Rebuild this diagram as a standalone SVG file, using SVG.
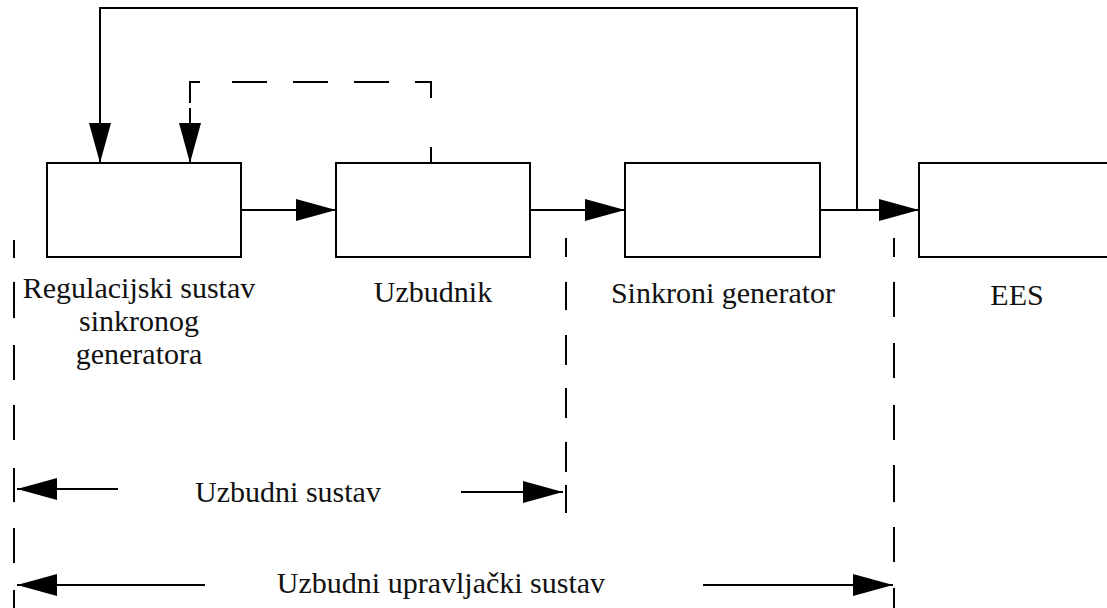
<svg xmlns="http://www.w3.org/2000/svg" width="1107" height="608" viewBox="0 0 1107 608">
<defs>
<marker id="ah" markerUnits="userSpaceOnUse" markerWidth="40" markerHeight="22" refX="40" refY="11" orient="auto">
<path d="M0,0 L40,11 L0,22 Z" fill="#000"/>
</marker>
<style>
.box{fill:#fff;stroke:#000;stroke-width:2}
.ln{fill:none;stroke:#000;stroke-width:2}
.arr{fill:none;stroke:#000;stroke-width:2;marker-end:url(#ah)}
.sep{fill:none;stroke:#000;stroke-width:2}
.t{font-family:"Liberation Serif","Times New Roman",serif;font-size:30px;fill:#111;text-anchor:middle}
</style>
</defs>
<rect width="1107" height="608" fill="#fff"/>
<g id="connectors">
<line class="arr" x1="241" y1="210" x2="336" y2="210"/>
<line class="arr" x1="530" y1="210" x2="625" y2="210"/>
<line class="arr" x1="820" y1="210" x2="919" y2="210"/>
<polyline class="arr" points="857,210 857,8 100,8 100,163"/>
<path class="ln" d="M431,163 V147 M431,98 V82 H415 M389,82 H354 M328,82 H293 M267,82 H232 M200,82 H190 V103 M190,108 V124"/>
<line class="arr" x1="190" y1="120" x2="190" y2="163"/>
</g>
<g id="separators">
<path class="sep" d="M14,240 V258 M14,282 V318 M14,345 V380 M14,405 V440 M14,468 V502 M14,528 V563 M14,590 V608"/>
<path class="sep" d="M566,238 V257 M566,282 V310 M566,335 V365 M566,388 V418 M566,442 V472 M566,485 V513"/>
<path class="sep" d="M894,238 V257 M894,282 V317 M894,343 V378 M894,405 V440 M894,465 V502 M894,527 V562 M894,588 V608"/>
</g>
<g id="span-uzbudni-sustav">
<line class="arr" x1="118" y1="489" x2="17" y2="489"/>
<line class="arr" x1="461" y1="492" x2="563" y2="492"/>
<text class="t" x="288" y="502">Uzbudni sustav</text>
</g>
<g id="span-uzbudni-upravljacki-sustav">
<line class="arr" x1="205" y1="585" x2="17" y2="585"/>
<line class="arr" x1="703" y1="585" x2="893" y2="585"/>
<text class="t" x="441" y="593">Uzbudni upravljački sustav</text>
</g>
<g id="node-regulacijski">
<rect class="box" x="47" y="163" width="194" height="94"/>
<text class="t" x="139" y="298">Regulacijski sustav</text>
<text class="t" x="139" y="331">sinkronog</text>
<text class="t" x="139" y="364">generatora</text>
</g>
<g id="node-uzbudnik">
<rect class="box" x="336" y="163" width="194" height="94"/>
<text class="t" x="433" y="302">Uzbudnik</text>
</g>
<g id="node-sinkroni">
<rect class="box" x="625" y="163" width="195" height="94"/>
<text class="t" x="723" y="303">Sinkroni generator</text>
</g>
<g id="node-ees">
<rect class="box" x="919" y="163" width="200" height="94"/>
<text class="t" x="1017" y="305">EES</text>
</g>
</svg>
